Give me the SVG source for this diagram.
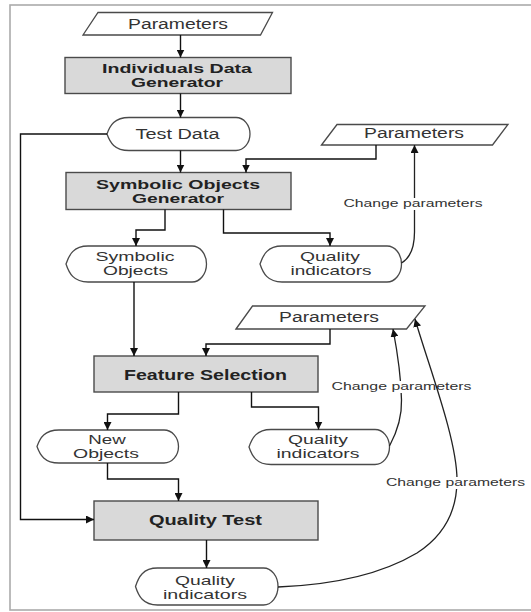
<svg xmlns="http://www.w3.org/2000/svg" width="531" height="612" viewBox="0 0 531 612">
<style>
.frame{fill:none;stroke:#ababab;stroke-width:1.6}
.box{fill:#d9d9d9;stroke:#4a4a4a;stroke-width:1.4}
.io{fill:#fff;stroke:#4a4a4a;stroke-width:1.3}
.disp{fill:#fff;stroke:#4a4a4a;stroke-width:1.3}
.t{font-family:"Liberation Sans",Arial,sans-serif;font-size:14px;fill:#333;text-anchor:middle}
.t2{font-family:"Liberation Sans",Arial,sans-serif;font-size:13px;fill:#333;text-anchor:middle}
.b{font-family:"Liberation Sans",Arial,sans-serif;font-size:14px;font-weight:bold;fill:#222;text-anchor:middle}
.b2{font-family:"Liberation Sans",Arial,sans-serif;font-size:13px;font-weight:bold;fill:#222;text-anchor:middle}
.lbl{font-family:"Liberation Sans",Arial,sans-serif;font-size:10px;fill:#333;text-anchor:middle}
.c{fill:none;stroke:#111;stroke-width:1.4}
.cv{fill:none;stroke:#222;stroke-width:1.3}
.bg{fill:#fff}
</style>
<defs>
<marker id="arr" markerUnits="userSpaceOnUse" viewBox="0 0 8 8" refX="8" refY="4" markerWidth="8" markerHeight="8" orient="auto">
<path d="M0,0 L8,4 L0,8 Z" fill="#111"/>
</marker>
</defs>
<rect class="frame" x="10" y="5" width="530" height="605"/>

<g id="params1">
<polygon class="io" points="83,35 98,12.5 272.5,12.5 260.5,35"/>
<text class="t" x="178" y="29" textLength="100" lengthAdjust="spacingAndGlyphs">Parameters</text>
</g>
<g id="idg">
<rect class="box" x="65" y="57.5" width="226" height="36"/>
<text class="b2" x="177" y="72.5" textLength="150" lengthAdjust="spacingAndGlyphs">Individuals Data</text>
<text class="b2" x="177" y="87" textLength="92" lengthAdjust="spacingAndGlyphs">Generator</text>
</g>
<g id="testdata">
<path class="disp" d="M107,134 C110,125.5 114.5,117.5 129,117.5 L236,117.5 A14,16.5 0 0 1 236,150.5 L129,150.5 C114.5,150.5 110,142.5 107,134 Z"/>
<text class="t" x="177.5" y="139" textLength="84" lengthAdjust="spacingAndGlyphs">Test Data</text>
</g>
<g id="params2">
<polygon class="io" points="321.5,145 337,124.5 508,124.5 492.5,145"/>
<text class="t" x="414" y="138" textLength="100" lengthAdjust="spacingAndGlyphs">Parameters</text>
</g>
<g id="sog">
<rect class="box" x="66" y="172.5" width="225" height="37"/>
<text class="b2" x="178" y="188.5" textLength="164" lengthAdjust="spacingAndGlyphs">Symbolic Objects</text>
<text class="b2" x="178" y="203" textLength="92" lengthAdjust="spacingAndGlyphs">Generator</text>
</g>
<g id="symobj">
<path class="disp" d="M66,264 C69,255 73.5,246 88,246 L192,246 A14.5,18 0 0 1 192,282 L88,282 C73.5,282 69,273 66,264 Z"/>
<text class="t2" x="135" y="260.5" textLength="79" lengthAdjust="spacingAndGlyphs">Symbolic</text>
<text class="t2" x="135.5" y="275" textLength="65" lengthAdjust="spacingAndGlyphs">Objects</text>
</g>
<g id="qi1">
<path class="disp" d="M260,264 C263,255 267.5,246 282,246 L387,246 A14.5,18 0 0 1 387,282 L282,282 C267.5,282 263,273 260,264 Z"/>
<text class="t2" x="330" y="260.5" textLength="60" lengthAdjust="spacingAndGlyphs">Quality</text>
<text class="t2" x="331" y="275" textLength="81" lengthAdjust="spacingAndGlyphs">indicators</text>
</g>
<g id="params3">
<polygon class="io" points="236,329 252.5,306 425,306 406.5,329"/>
<text class="t" x="329" y="321.5" textLength="100" lengthAdjust="spacingAndGlyphs">Parameters</text>
</g>
<g id="fs">
<rect class="box" x="94" y="356" width="224" height="36"/>
<text class="b" x="205.5" y="379.5" textLength="163" lengthAdjust="spacingAndGlyphs">Feature Selection</text>
</g>
<g id="newobj">
<path class="disp" d="M37,446.5 C40,438 44.5,430 59,430 L164,430 A14.5,16.5 0 0 1 164,463 L59,463 C44.5,463 40,455 37,446.5 Z"/>
<text class="t2" x="107" y="443.5" textLength="37.5" lengthAdjust="spacingAndGlyphs">New</text>
<text class="t2" x="106" y="458" textLength="66" lengthAdjust="spacingAndGlyphs">Objects</text>
</g>
<g id="qi2">
<path class="disp" d="M249,447 C252,438 256.5,429.5 271,429.5 L375,429.5 A14.5,17.5 0 0 1 375,464.5 L271,464.5 C256.5,464.5 252,456 249,447 Z"/>
<text class="t2" x="318" y="443.5" textLength="60" lengthAdjust="spacingAndGlyphs">Quality</text>
<text class="t2" x="318" y="458" textLength="83" lengthAdjust="spacingAndGlyphs">indicators</text>
</g>
<g id="qt">
<rect class="box" x="94" y="501" width="224" height="39"/>
<text class="b" x="205.5" y="525" textLength="113" lengthAdjust="spacingAndGlyphs">Quality Test</text>
</g>
<g id="qi3">
<path class="disp" d="M135.5,586.5 C138.5,577 143,568 157.5,568 L263.5,568 A14.5,18.5 0 0 1 263.5,605 L157.5,605 C143,605 138.5,596 135.5,586.5 Z"/>
<text class="t2" x="205" y="584.5" textLength="60" lengthAdjust="spacingAndGlyphs">Quality</text>
<text class="t2" x="205" y="599" textLength="84" lengthAdjust="spacingAndGlyphs">indicators</text>
</g>

<g id="connectors">
<path class="c" d="M180.5,35 V57.5" marker-end="url(#arr)"/>
<path class="c" d="M180.5,93.5 V117.5" marker-end="url(#arr)"/>
<path class="c" d="M180.5,150.5 V172.5" marker-end="url(#arr)"/>
<path class="c" d="M376,145 V159 H246 V172.5" marker-end="url(#arr)"/>
<path class="c" d="M107,134 H20.5 V519.5 H94" marker-end="url(#arr)"/>
<path class="c" d="M165,209.5 V230 H136 V246" marker-end="url(#arr)"/>
<path class="c" d="M223.5,209.5 V233 H330 V246" marker-end="url(#arr)"/>
<path class="c" d="M134,282 V356" marker-end="url(#arr)"/>
<path class="c" d="M330,329 V344 H206 V356" marker-end="url(#arr)"/>
<path class="c" d="M178.5,392 V414 H107.5 V430" marker-end="url(#arr)"/>
<path class="c" d="M251.5,392 V407 H318.5 V429.5" marker-end="url(#arr)"/>
<path class="c" d="M107.5,463 V479 H178.5 V501" marker-end="url(#arr)"/>
<path class="c" d="M206.5,540 V568" marker-end="url(#arr)"/>
<path class="cv" d="M401.5,263 C410,258 414.5,248 414.5,232 L414.5,145" marker-end="url(#arr)"/>
<rect class="bg" x="343" y="198" width="140" height="12"/>
<text class="lbl" x="413" y="207" textLength="139" lengthAdjust="spacingAndGlyphs">Change parameters</text>
<path class="cv" d="M389.5,446 C397,432 402,415 401.5,400 C401,375 397,350 393,329" marker-end="url(#arr)"/>
<rect class="bg" x="331" y="381" width="141" height="12"/>
<text class="lbl" x="401.5" y="390" textLength="140" lengthAdjust="spacingAndGlyphs">Change parameters</text>
<path class="cv" d="M278,587 C330,585 380,575 417,553 C445,535 457,510 457,480 C457,440 430,370 415,319" marker-end="url(#arr)"/>
<rect class="bg" x="386" y="477" width="140" height="12"/>
<text class="lbl" x="455.5" y="486" textLength="139" lengthAdjust="spacingAndGlyphs">Change parameters</text>
</g>
</svg>
